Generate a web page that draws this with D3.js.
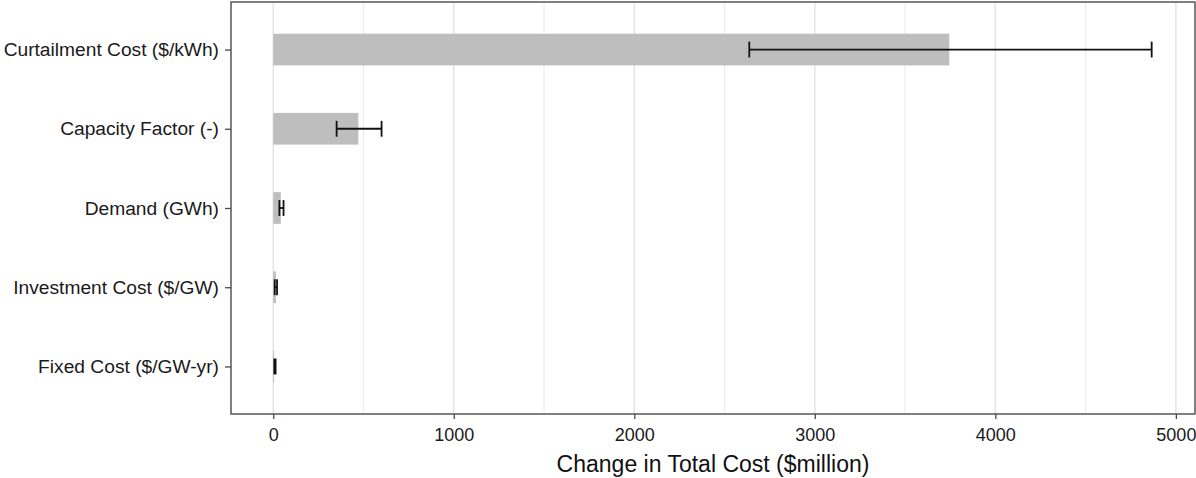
<!DOCTYPE html>
<html>
<head>
<meta charset="utf-8">
<script src="https://cdn.jsdelivr.net/npm/d3@7"></script>
<style>
  html, body { margin: 0; padding: 0; background: #fff; }
  svg { display: block; }
  text { font-family: "Liberation Sans", Arial, sans-serif; }
</style>
</head>
<body>
<svg id="chart" width="1196" height="478"></svg>
<script>
// Parameters, top to bottom
const categories = [
  "Curtailment Cost ($/kWh)",
  "Capacity Factor (-)",
  "Demand (GWh)",
  "Investment Cost ($/GW)",
  "Fixed Cost ($/GW-yr)"
];
// Change in total cost ($million) and its low / high range
const values = [3745, 471, 42, 15, 5];
const lows   = [2637, 351, 34, 8, 6];
const highs  = [4866, 600, 57, 21, 13];
const xTicks = [0, 1000, 2000, 3000, 4000, 5000];
const xMinor = [500, 1500, 2500, 3500, 4500];
const xTitle = "Change in Total Cost ($million)";

const svg = d3.select("#chart");
const panel = { left: 231, right: 1195, top: 2, bottom: 414 };

const x = d3.scaleLinear().domain([-234, 5106]).range([panel.left, panel.right]);
const y = d3.scalePoint().domain(categories)
  .range([panel.top, panel.bottom]).padding(0.6);
const step = y.step();

// grid
const g = svg.append("g");
g.selectAll(".minor").data(xMinor).join("line")
  .attr("x1", d => x(d)).attr("x2", d => x(d))
  .attr("y1", panel.top).attr("y2", panel.bottom)
  .attr("stroke", "#ececec").attr("stroke-width", 1.2);
g.selectAll(".major").data(xTicks).join("line")
  .attr("x1", d => x(d)).attr("x2", d => x(d))
  .attr("y1", panel.top).attr("y2", panel.bottom)
  .attr("stroke", "#e6e6e6").attr("stroke-width", 1.6);

// bars
g.selectAll(".bar").data(values).join("rect")
  .attr("x", d => x(Math.min(0, d)))
  .attr("width", d => Math.abs(x(d) - x(0)))
  .attr("y", (d, i) => y(categories[i]) - step * 0.2)
  .attr("height", step * 0.4)
  .attr("fill", "#bebebe");

// error bars
const eb = g.selectAll(".err").data(categories).join("g");
eb.append("line")
  .attr("x1", (d, i) => x(lows[i])).attr("x2", (d, i) => x(highs[i]))
  .attr("y1", d => y(d)).attr("y2", d => y(d))
  .attr("stroke", "#111").attr("stroke-width", 1.8);
[lows, highs].forEach(arr => {
  eb.append("line")
    .attr("x1", (d, i) => x(arr[i])).attr("x2", (d, i) => x(arr[i]))
    .attr("y1", d => y(d) - step * 0.1).attr("y2", d => y(d) + step * 0.1)
    .attr("stroke", "#111").attr("stroke-width", 1.8);
});

// panel border
svg.append("rect")
  .attr("x", panel.left).attr("y", panel.top)
  .attr("width", panel.right - panel.left).attr("height", panel.bottom - panel.top)
  .attr("fill", "none").attr("stroke", "#4a4a4a").attr("stroke-width", 1.4);

// x axis
const xAxis = svg.append("g")
  .attr("transform", `translate(0,${panel.bottom})`)
  .call(d3.axisBottom(x).tickValues(xTicks).tickFormat(d3.format("d"))
    .tickSizeInner(5).tickSizeOuter(0).tickPadding(9));
xAxis.select(".domain").remove();
xAxis.selectAll(".tick line").attr("stroke", "#4a4a4a").attr("stroke-width", 1.3);
xAxis.selectAll(".tick text").attr("fill", "#1a1a1a").style("font-size", "18px");

// y axis
const yAxis = svg.append("g")
  .attr("transform", `translate(${panel.left},0)`)
  .call(d3.axisLeft(y).tickSizeInner(6).tickSizeOuter(0).tickPadding(6));
yAxis.select(".domain").remove();
yAxis.selectAll(".tick line").attr("stroke", "#4a4a4a").attr("stroke-width", 1.3);
yAxis.selectAll(".tick text").attr("fill", "#1a1a1a").style("font-size", "19.2px");

// axis title
svg.append("text")
  .attr("x", (panel.left + panel.right) / 2)
  .attr("y", 472)
  .attr("text-anchor", "middle")
  .attr("fill", "#111")
  .style("font-size", "23px")
  .text(xTitle);
</script>
</body>
</html>
